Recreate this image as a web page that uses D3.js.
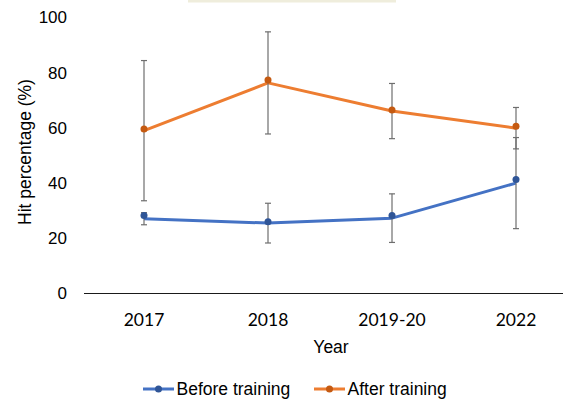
<!DOCTYPE html>
<html lang="en">
<head>
    <meta charset="UTF-8">
    <script src="https://d3js.org/d3.v7.min.js"></script>
    <title>Hit percentage before and after training</title>
    <style>
        body { margin: 0; background: #fff; }
        svg { display: block; }
    </style>
</head>
<body>
    <figure style="margin:0"></figure>
    <script>
        // data
        const years = ["2017", "2018", "2019-20", "2022"];
        const beforeTraining = [27.1, 25.5, 27.3, 40.0];
        const beforeMarkers = [28.3, 26.0, 28.3, 41.3];
        const beforeError = [2.2, 7.2, 8.8, 16.5];
        const afterTraining = [59.0, 76.3, 66.1, 59.9];
        const afterMarkers = [59.6, 77.4, 66.5, 60.6];
        const afterError = [25.4, 18.5, 10.0, 7.5];
        const yTicks = [0, 20, 40, 60, 80, 100];

        const w = 563;
        const h = 402;
        const font = "Liberation Sans, Arial, sans-serif";

        const svg = d3.select("figure")
            .append("svg")
            .attr("width", w)
            .attr("height", h);

        // faint highlight strip at the top edge
        svg.append("rect")
            .attr("x", 188).attr("y", 0)
            .attr("width", 208).attr("height", 2.5)
            .attr("fill", "#efeddc");

        const xScale = d3.scaleBand()
            .domain(years)
            .range([82, 578]);

        const yScale = d3.scaleLinear()
            .domain([0, 100])
            .range([293.5, 17.5]);

        const cx = d => xScale(d) + xScale.bandwidth() / 2;

        // y axis labels (no line)
        svg.append("g")
            .selectAll("text")
            .data(yTicks)
            .enter()
            .append("text")
            .attr("x", 67)
            .attr("y", d => yScale(d))
            .attr("dy", "0.35em")
            .attr("text-anchor", "end")
            .attr("font-family", font)
            .attr("font-size", 17)
            .attr("fill", "#000")
            .text(d => d);

        // x axis
        const xAxis = d3.axisBottom(xScale).tickSize(0).tickPadding(16);
        const gx = svg.append("g")
            .attr("transform", "translate(0," + yScale(0) + ")")
            .call(xAxis);
        gx.select(".domain").attr("stroke", "#1a1a1a").attr("stroke-width", 1.2)
            .attr("d", "M84,0H563");
        gx.selectAll("text")
            .attr("font-family", "Lato, Carlito, sans-serif")
            .attr("font-size", 17.5)
            .attr("fill", "#000")
            .attr("dy", "0.32em")
            .attr("y", 26.5);

        // axis titles
        svg.append("text")
            .attr("x", 331).attr("y", 346.5)
            .attr("dy", "0.35em")
            .attr("text-anchor", "middle")
            .attr("font-family", font)
            .attr("font-size", 17.5)
            .text("Year");

        svg.append("text")
            .attr("transform", "translate(25,152) rotate(-90)")
            .attr("dy", "0.35em")
            .attr("text-anchor", "middle")
            .attr("font-family", font)
            .attr("font-size", 17.5)
            .text("Hit percentage (%)");

        const series = [
            { name: "Before training", values: beforeTraining, markers: beforeMarkers, err: beforeError, color: "#4472c4", dark: "#2f5597" },
            { name: "After training", values: afterTraining, markers: afterMarkers, err: afterError, color: "#ed7d31", dark: "#c55a11" }
        ];

        const line = d3.line()
            .x(d => cx(d.year))
            .y(d => yScale(d.v));

        series.forEach(s => {
            const pts = years.map((y, i) => ({ year: y, v: s.values[i], m: s.markers[i], e: s.err[i] }));

            svg.append("path")
                .datum(pts)
                .attr("d", line)
                .attr("fill", "none")
                .attr("stroke", s.color)
                .attr("stroke-width", 3)
                .attr("stroke-linejoin", "round");

            const eb = svg.append("g").attr("stroke", "#6e6e6e").attr("stroke-width", 1.2);
            eb.selectAll("line.v")
                .data(pts).enter().append("line")
                .attr("x1", d => cx(d.year)).attr("x2", d => cx(d.year))
                .attr("y1", d => yScale(d.v + d.e)).attr("y2", d => yScale(d.v - d.e));
            eb.selectAll("line.top")
                .data(pts).enter().append("line")
                .attr("x1", d => cx(d.year) - 3).attr("x2", d => cx(d.year) + 3)
                .attr("y1", d => yScale(d.v + d.e)).attr("y2", d => yScale(d.v + d.e));
            eb.selectAll("line.bot")
                .data(pts).enter().append("line")
                .attr("x1", d => cx(d.year) - 3).attr("x2", d => cx(d.year) + 3)
                .attr("y1", d => yScale(d.v - d.e)).attr("y2", d => yScale(d.v - d.e));

            svg.append("g")
                .selectAll("circle")
                .data(pts).enter().append("circle")
                .attr("cx", d => cx(d.year))
                .attr("cy", d => yScale(d.m))
                .attr("r", 3.5)
                .attr("fill", s.dark);
        });

        // legend
        const legendX = [143, 314];
        series.forEach((s, i) => {
            const g = svg.append("g").attr("transform", "translate(" + legendX[i] + ",389)");
            g.append("line")
                .attr("x1", 0).attr("x2", 31)
                .attr("stroke", s.color).attr("stroke-width", 3);
            g.append("circle").attr("cx", 15.5).attr("r", 3.5).attr("fill", s.dark);
            g.append("text")
                .attr("x", 33.5)
                .attr("dy", "0.35em")
                .attr("font-family", font)
                .attr("font-size", 17.5)
                .text(s.name);
        });
    </script>
</body>
</html>
